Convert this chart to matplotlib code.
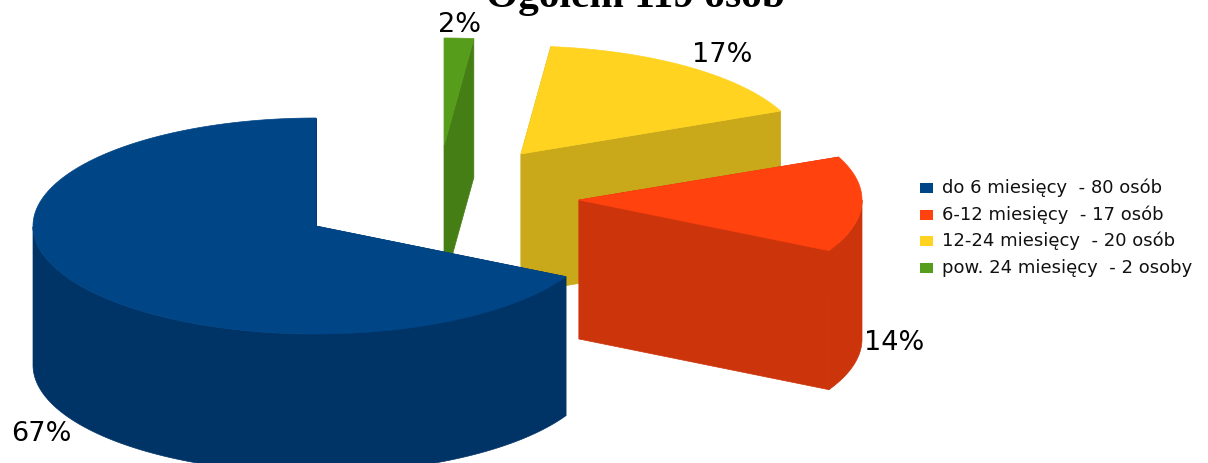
import numpy as np
import matplotlib
matplotlib.use('Agg')
import matplotlib.pyplot as plt
from matplotlib.patches import Polygon, Rectangle

# data
categories = ['do 6 miesięcy  - 80 osób', '6-12 miesięcy  - 17 osób',
              '12-24 miesięcy  - 20 osób', 'pow. 24 miesięcy  - 2 osoby']
counts = [80, 17, 20, 2]
title = 'Ogółem 119 osób'

# style
top_colors = ['#004586', '#ff420e', '#ffd320', '#579d1c']
side_colors = ['#003366', '#cc340b', '#c9a81a', '#467e16']
# exploded slice centres in pixels (x, y of the top face apex)
centers = [(316, 226), (579, 200), (521, 154), (444, 146)]
label_pos = [(41, 434), (894, 343), (722, 55), (459, 25)]
legend_y = [188, 215, 241, 268]
RX, RY, DEPTH = 283, 108, 139


def rim(center, angles):
    cx, cy = center
    return np.column_stack([cx + RX * np.cos(angles), cy - RY * np.sin(angles)])


def draw_slice(ax, center, start, end, top, side):
    angles = np.linspace(start, end, 400)
    arc = rim(center, angles)
    apex = np.array(center, dtype=float)
    drop = np.array([0, DEPTH])

    # radial walls, then outer wall, then the top face over them
    for p in (arc[0], arc[-1]):
        ax.add_patch(Polygon([apex, p, p + drop, apex + drop], fc=side, ec=side, lw=0.5))
    front = arc[np.sin(angles) <= 0]  # only the part of the rim facing the viewer
    if len(front) > 1:
        ax.add_patch(Polygon(np.vstack([front, (front + drop)[::-1]]), fc=side, ec=side, lw=0.5))
    ax.add_patch(Polygon(np.vstack([apex, arc]), fc=top, ec=top, lw=0.5))


fig = plt.figure(figsize=(12.08, 4.63), dpi=100)
ax = fig.add_axes([0, 0, 1, 1])
ax.set_xlim(0, 1208)
ax.set_ylim(463, 0)
ax.axis('off')

total = sum(counts)
edges = np.pi / 2 + 2 * np.pi * np.concatenate([[0], np.cumsum(counts)]) / total

# painter's order: back slices first
for i in [2, 3, 1, 0]:
    draw_slice(ax, centers[i], edges[i], edges[i + 1], top_colors[i], side_colors[i])

for value, (x, y) in zip(counts, label_pos):
    ax.text(x, y, f'{round(100 * value / total)}%', fontsize=19.5, family='DejaVu Sans',
            ha='center', va='center', color='black')

for name, color, y in zip(categories, top_colors, legend_y):
    ax.add_patch(Rectangle((920, y - 5), 13, 10, fc=color, ec='none'))
    ax.text(942, y, name, fontsize=13, family='DejaVu Sans', va='center', color='#111111')

ax.text(635, 6.5, title, fontsize=29.8, family='Liberation Serif', fontweight='bold',
        ha='center', va='baseline', color='black', clip_on=False)

fig.savefig('out.png', dpi=100)
